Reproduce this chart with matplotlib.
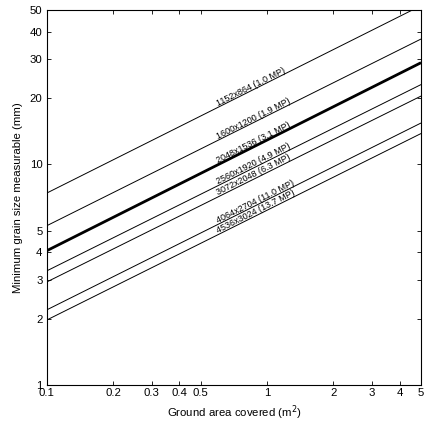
import math
import matplotlib
matplotlib.use("Agg")
import matplotlib.pyplot as plt
from matplotlib.ticker import FixedLocator, FixedFormatter, NullLocator

plt.rcParams['font.family'] = ['Liberation Sans', 'DejaVu Sans']

# Data
x_ends = [0.1, 5.0]
labels = ["1152x864 (1.0 MP)", "1600x1200 (1.9 MP)", "2048x1536 (3.1 MP)",
          "2560x1920 (4.9 MP)", "3072x2048 (6.3 MP)", "4064x2704 (11.0 MP)",
          "4536x3024 (13.7 MP)"]
y_at_01 = [7.41, 5.27, 4.06, 3.29, 2.93, 2.19, 1.97]
y_at_5 = [52.4, 37.0, 28.9, 23.0, 20.4, 15.4, 13.8]
thick = [False, False, True, False, False, False, False]

xticks = [0.1, 0.2, 0.3, 0.4, 0.5, 1, 2, 3, 4, 5]
xticklabels = ["0.1", "0.2", "0.3", "0.4", "0.5", "1", "2", "3", "4", "5"]
yticks = [1, 2, 3, 4, 5, 10, 20, 30, 40, 50]
yticklabels = ["1", "2", "3", "4", "5", "10", "20", "30", "40", "50"]

label_x = 0.6

fig = plt.figure(figsize=(4.31, 4.25), dpi=100)
ax = fig.add_axes([0.1084, 0.0941, 0.8685, 0.882])
ax.set_xscale('log')
ax.set_yscale('log')
ax.set_xlim(0.1, 5)
ax.set_ylim(1, 50)

for lab, y0, y1, th in zip(labels, y_at_01, y_at_5, thick):
    ax.plot(x_ends, [y0, y1], color='black', lw=2.0 if th else 0.7,
            solid_capstyle='butt')
    t = (math.log10(label_x) - math.log10(x_ends[0])) / (math.log10(x_ends[1]) - math.log10(x_ends[0]))
    ly = 10 ** (math.log10(y0) + t * (math.log10(y1) - math.log10(y0)))
    ax.text(label_x, ly * 1.012, lab, rotation=26.6, rotation_mode='anchor',
            ha='left', va='baseline', fontsize=6.5)

ax.xaxis.set_major_locator(FixedLocator(xticks))
ax.xaxis.set_major_formatter(FixedFormatter(xticklabels))
ax.xaxis.set_minor_locator(NullLocator())
ax.yaxis.set_major_locator(FixedLocator(yticks))
ax.yaxis.set_major_formatter(FixedFormatter(yticklabels))
ax.yaxis.set_minor_locator(NullLocator())
ax.tick_params(direction='in', length=3, width=0.6, labelsize=8.2,
               top=True, right=True, pad=2)
ax.tick_params(axis='y', pad=3)
for s in ax.spines.values():
    s.set_linewidth(0.8)

ax.set_xlabel("Ground area covered (m$^2$)", fontsize=8.2, labelpad=4)
ax.set_ylabel("Minimum grain size measurable (mm)", fontsize=8.2, labelpad=5)

fig.savefig("out.png", dpi=100)
